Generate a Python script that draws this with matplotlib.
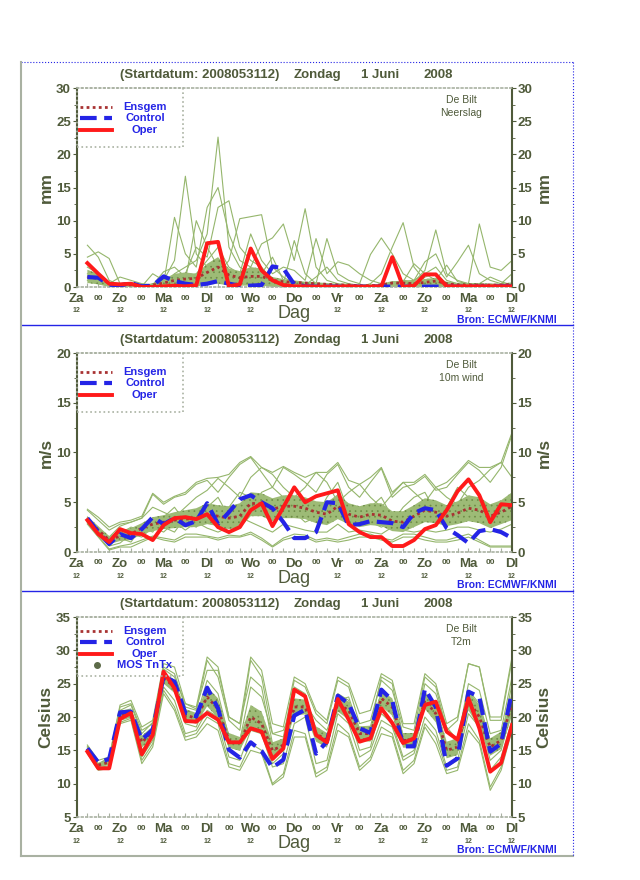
import matplotlib
matplotlib.use("Agg")
import matplotlib.pyplot as plt
from matplotlib.lines import Line2D
from matplotlib.patches import Rectangle
from matplotlib.ticker import MultipleLocator

plt.rcParams['font.family'] = ['Liberation Sans', 'DejaVu Sans']
plt.rcParams['font.weight'] = 'bold'
plt.rcParams['hatch.linewidth'] = 0.5

# --- time axis: 6-hourly steps after 2008053112 ---
steps = list(range(1, 41))
tick_labels = ["Za", "00", "Zo", "00", "Ma", "00", "Dl", "00", "Wo", "00", "Do",
               "00", "Vr", "00", "Za", "00", "Zo", "00", "Ma", "00", "Dl"]

# --- Neerslag (mm) ---
rr_oper = [3.6, 2.0, 0.5, 0.4, 0.5, 0.0, 0.0, 0.1, 0.2, 0.1, 0.25, 6.6, 6.8, 0.1, 0.4, 5.8, 2.5, 1.0, 0.3, 0.1,
           0.1, 0.05, 0.05, 0.05, 0.1, 0.05, 0.05, 0.1, 4.5, 0.0, 0.2, 1.9, 1.9, 0.1, 0.1, 0.1, 0.1, 0.1, 0.1, 0.1]
rr_ctrl = [1.5, 1.4, 0.35, 0.25, 0.6, 0.1, 0.2, 1.6, 0.9, 0.5, 0.3, 0.5, 0.9, 0.5, 0.2, 0.2, 0.3, 3.1, 2.8, 0.4,
           0.1, 0.05, 0.05, 0.05, 0.05, 0.05, 0.05, 0.05, 0.05, 0.05, 0.05, 0.05, 0.05, 0.05, 0.05, 0.05, 0.05, 0.05, 0.1, 0.1]
rr_ens = [1.5, 1.3, 0.6, 0.3, 0.3, 0.1, 0.3, 0.6, 1.0, 1.2, 1.3, 2.2, 3.0, 1.8, 1.4, 1.6, 1.6, 1.0, 0.8, 0.7,
          0.6, 0.5, 0.4, 0.3, 0.3, 0.2, 0.2, 0.3, 0.6, 0.6, 0.5, 0.7, 0.9, 0.5, 0.3, 0.3, 0.3, 0.3, 0.3, 0.4]
rr_q1 = [0.6, 0.4, 0, 0, 0, 0, 0, 0, 0.1, 0.1, 0.1, 0.3, 0.5, 0.2, 0.2, 0.2, 0.2, 0, 0, 0,
         0, 0, 0, 0, 0, 0, 0, 0, 0, 0, 0, 0, 0, 0, 0, 0, 0, 0, 0, 0]
rr_q3 = [2.6, 2.0, 0.8, 0.6, 0.7, 0.4, 0.5, 1.2, 2.0, 2.2, 2.0, 3.5, 4.5, 2.8, 2.4, 3.0, 2.8, 1.5, 1.2, 1.0,
         0.8, 0.7, 0.6, 0.5, 0.5, 0.4, 0.4, 0.5, 0.9, 0.9, 0.8, 1.2, 1.4, 0.8, 0.6, 0.6, 0.6, 0.5, 0.5, 0.7]
rr_members = [
    [1.0, 0.5, 0.2, 0, 0, 0, 0.2, 0.5, 2.0, 3.0, 4.0, 8.0, 22.6, 6.0, 3.0, 2.0, 1.5, 0.8, 0.5, 0.3,
     0.2, 0.1, 0, 0, 0, 0, 0, 0.2, 0.5, 0.8, 1.0, 2.0, 3.0, 1.0, 0.5, 0.3, 0.2, 0.1, 0, 0],
    [3.0, 2.0, 0.5, 0.2, 0, 0, 0.5, 1.0, 4.0, 16.7, 5.0, 3.0, 2.0, 4.0, 10.3, 10.6, 10.9, 3.0, 1.5, 0.5,
     0.2, 0, 0, 0, 0, 0, 0.5, 2.0, 6.0, 9.7, 3.0, 1.0, 0.5, 0.2, 0, 0, 0.5, 1.5, 0.8, 0.3],
    [6.3, 4.5, 1.0, 0.3, 0.2, 0, 0, 0.5, 10.5, 5.0, 3.0, 12.0, 15.0, 8.0, 4.0, 3.0, 6.5, 7.4, 9.5, 4.0,
     11.8, 3.0, 1.0, 0.5, 0.2, 0.1, 0, 0, 0.5, 1.0, 0.8, 2.5, 8.6, 2.0, 1.0, 0.5, 0.3, 0.2, 0.1, 0],
    [4.5, 5.3, 4.3, 0.5, 0.2, 0, 0, 0.2, 1.0, 2.0, 6.0, 4.5, 12.0, 13.0, 6.0, 4.0, 3.0, 1.0, 0.5, 7.0,
     2.0, 0.5, 7.3, 2.0, 1.0, 0.5, 4.9, 7.4, 5.0, 2.0, 1.0, 3.8, 5.0, 1.5, 3.8, 6.3, 2.0, 1.0, 0.5, 0.2],
    [2.0, 1.5, 0.5, 1.5, 1.0, 0.5, 0.3, 2.3, 3.0, 1.5, 2.0, 4.0, 6.0, 3.0, 2.0, 8.0, 4.0, 2.0, 3.0, 2.5,
     1.0, 7.3, 2.0, 3.8, 3.3, 2.0, 1.0, 0.5, 0.3, 0.8, 3.5, 2.0, 1.0, 3.3, 0.8, 0.5, 9.5, 3.0, 2.5, 4.0],
    [1.5, 1.0, 0.3, 0.2, 0.3, 0.1, 2.0, 1.0, 0.5, 1.0, 10.0, 6.0, 3.0, 2.0, 1.0, 0.5, 2.0, 4.5, 1.0, 0.5,
     0.3, 1.5, 3.0, 1.0, 0.5, 0.2, 0.1, 0, 0, 0.2, 0.5, 1.5, 2.0, 0.5, 0.2, 0.1, 0, 0, 0.5, 2.0],
]

# --- 10m wind (m/s) ---
ff_oper = [3.2, 1.8, 1.0, 2.3, 1.9, 1.8, 1.2, 2.7, 3.4, 3.5, 3.3, 3.8, 2.5, 2.0, 2.5, 4.2, 4.9, 2.6, 4.5, 6.5,
           5.0, 5.6, 5.9, 6.2, 2.8, 2.0, 1.5, 1.5, 0.6, 0.6, 1.2, 2.3, 2.7, 4.2, 6.1, 7.3, 5.7, 3.0, 4.8, 4.7]
ff_ctrl = [3.4, 2.0, 0.8, 1.8, 1.4, 2.3, 3.5, 2.8, 3.4, 2.7, 3.1, 4.9, 2.8, 4.0, 5.3, 5.7, 5.0, 4.4, 3.0, 1.4,
           1.4, 2.0, 5.0, 4.9, 2.7, 2.8, 3.1, 3.0, 2.9, 2.5, 3.9, 4.4, 4.2, 2.4, 1.7, 0.9, 2.1, 2.3, 2.0, 1.4]
ff_ens = [3.2, 2.2, 1.2, 1.6, 1.8, 2.4, 2.8, 3.0, 3.2, 3.3, 3.4, 3.8, 3.6, 3.4, 3.6, 4.9, 4.8, 4.3, 4.6, 4.6,
          4.4, 4.0, 3.8, 4.6, 3.8, 3.5, 3.8, 3.7, 3.1, 3.0, 3.6, 4.2, 4.0, 3.6, 3.9, 4.4, 4.2, 3.6, 4.0, 4.6]
ff_q1 = [2.9, 1.8, 0.8, 1.1, 1.2, 1.8, 2.1, 2.3, 2.4, 2.5, 2.5, 2.8, 2.6, 2.3, 2.4, 3.6, 3.6, 3.1, 3.4, 3.4,
         3.3, 2.9, 2.7, 3.3, 2.8, 2.5, 2.7, 2.6, 2.1, 2.0, 2.5, 3.0, 2.9, 2.6, 2.8, 3.1, 2.9, 2.4, 2.8, 3.2]
ff_q3 = [3.6, 2.6, 1.6, 2.2, 2.4, 2.9, 3.5, 3.7, 4.0, 4.2, 4.4, 4.9, 4.7, 4.6, 4.9, 6.0, 5.9, 5.4, 5.7, 5.7,
         5.5, 5.1, 5.0, 5.8, 4.9, 4.6, 4.9, 4.9, 4.1, 4.1, 4.7, 5.4, 5.2, 4.7, 5.1, 5.7, 5.5, 4.8, 5.2, 6.0]
ff_members = [
    [4.3, 3.5, 2.5, 3.0, 3.2, 3.6, 5.9, 5.0, 5.6, 6.0, 7.0, 7.4, 7.5, 7.8, 9.0, 9.6, 8.5, 8.0, 8.6, 8.0,
     7.5, 8.0, 8.0, 9.0, 7.2, 6.8, 7.5, 8.5, 6.0, 7.0, 7.0, 7.8, 6.5, 7.0, 8.0, 9.2, 8.5, 8.5, 9.0, 12.0],
    [2.8, 1.5, 0.2, 0.5, 0.5, 1.0, 1.5, 1.2, 1.0, 1.5, 1.5, 1.5, 1.2, 1.5, 1.5, 1.8, 1.2, 0.5, 1.2, 1.5,
     1.5, 1.0, 1.2, 1.0, 1.2, 1.5, 1.5, 1.2, 1.0, 1.5, 1.5, 1.2, 1.0, 1.0, 1.2, 1.5, 1.0, 0.5, 0.5, 0.5],
    [4.2, 3.2, 2.2, 2.8, 3.0, 3.4, 5.8, 4.8, 5.5, 5.8, 6.8, 7.2, 6.0, 7.5, 8.8, 9.5, 8.0, 6.5, 8.5, 7.8,
     7.0, 6.0, 7.8, 8.8, 6.5, 5.5, 7.0, 8.4, 5.5, 6.5, 6.8, 7.6, 6.2, 6.5, 7.8, 9.0, 8.2, 7.0, 8.5, 11.8],
    [2.9, 1.6, 0.3, 0.6, 0.8, 1.2, 1.6, 1.4, 1.2, 1.8, 1.8, 1.6, 1.4, 1.7, 1.6, 2.0, 1.4, 0.6, 1.4, 1.8,
     1.7, 1.2, 1.4, 1.2, 1.5, 1.8, 1.8, 1.4, 1.2, 1.8, 1.8, 1.5, 1.2, 1.2, 1.5, 1.8, 1.2, 0.6, 0.6, 0.6],
    [3.5, 2.4, 1.5, 2.6, 3.0, 3.4, 4.5, 4.0, 3.5, 4.5, 5.5, 6.2, 7.4, 6.5, 5.5, 7.5, 8.5, 7.8, 6.5, 5.5,
     6.5, 8.0, 7.0, 5.0, 6.0, 6.8, 5.5, 4.5, 5.8, 7.0, 6.0, 5.0, 6.5, 5.5, 4.8, 6.5, 7.2, 8.3, 9.0, 7.5],
    [3.0, 2.0, 1.2, 1.8, 2.5, 2.2, 3.0, 2.5, 2.0, 3.5, 4.0, 3.5, 3.0, 4.5, 6.0, 5.5, 4.5, 4.0, 4.5, 6.5,
     5.0, 4.0, 3.5, 4.5, 3.5, 3.0, 4.5, 5.5, 3.5, 3.0, 3.5, 4.5, 5.0, 3.0, 3.5, 4.5, 4.0, 3.0, 4.5, 5.5],
    [3.3, 2.1, 0.9, 1.4, 1.0, 2.5, 2.0, 3.5, 4.5, 3.0, 2.5, 4.5, 5.5, 3.5, 3.0, 4.0, 6.0, 6.5, 5.5, 4.0,
     3.0, 3.5, 5.5, 7.0, 4.0, 4.5, 3.0, 2.5, 3.0, 4.5, 5.5, 6.0, 4.0, 4.5, 6.5, 5.5, 3.5, 4.0, 3.5, 4.5],
    [3.1, 1.9, 0.6, 0.9, 1.8, 1.5, 2.5, 2.0, 3.0, 2.2, 3.0, 2.4, 2.0, 2.5, 3.5, 3.0, 2.5, 2.0, 2.8, 2.5,
     2.2, 2.0, 2.0, 2.8, 2.0, 2.2, 2.0, 1.8, 2.5, 2.2, 2.0, 2.2, 2.0, 2.2, 2.5, 2.5, 2.2, 2.0, 2.3, 2.8],
]

# --- T2m (Celsius) ---
t_oper = [14.8, 12.3, 12.3, 19.7, 20.6, 14.4, 17.3, 26.8, 24.3, 19.4, 19.3, 20.6, 19.6, 16.2, 16.2, 18.3, 17.8, 13.7, 15.3, 24.1,
          23.1, 17.3, 16.2, 22.7, 19.6, 16.3, 16.8, 21.3, 19.1, 16.1, 16.8, 21.8, 22.3, 17.8, 16.6, 22.8, 18.3, 11.8, 13.1, 18.8]
t_ctrl = [15.3, 13.2, 13.7, 20.7, 20.8, 16.6, 18.1, 26.1, 25.3, 20.6, 20.1, 24.4, 21.3, 15.1, 13.9, 16.2, 14.9, 12.4, 13.6, 20.2,
          21.1, 14.5, 16.3, 23.2, 22.0, 18.3, 17.6, 24.1, 22.5, 15.6, 15.6, 24.2, 21.5, 12.7, 13.8, 23.8, 23.0, 14.8, 16.0, 23.8]
t_ens = [15.0, 12.8, 13.2, 20.2, 20.6, 16.2, 17.8, 25.8, 24.6, 20.3, 19.8, 23.0, 21.2, 16.5, 16.0, 20.0, 19.0, 15.0, 15.8, 21.5,
         21.5, 17.5, 16.5, 22.0, 21.0, 17.5, 17.5, 22.8, 21.5, 16.5, 16.5, 22.5, 20.5, 15.0, 15.5, 22.5, 20.0, 15.5, 16.5, 22.0]
t_q1 = [14.6, 12.5, 12.8, 19.6, 20.0, 15.4, 17.0, 25.0, 23.6, 19.4, 19.0, 21.6, 19.8, 15.4, 15.0, 18.2, 17.4, 13.8, 14.8, 20.2,
        20.4, 16.3, 15.4, 20.8, 19.6, 16.4, 16.3, 21.6, 20.2, 15.4, 15.4, 21.2, 19.2, 13.8, 14.3, 21.0, 18.3, 14.2, 15.2, 20.2]
t_q3 = [15.4, 13.1, 13.6, 20.9, 21.3, 17.2, 18.6, 26.6, 25.6, 21.2, 20.6, 24.5, 22.8, 17.6, 17.0, 21.8, 20.8, 16.2, 16.8, 22.8,
        22.6, 18.6, 17.6, 23.3, 22.3, 18.6, 18.7, 24.0, 22.8, 17.6, 17.6, 23.8, 21.9, 16.3, 16.8, 24.0, 21.8, 16.8, 17.8, 23.8]
t_members = [
    [15.8, 13.5, 14.0, 21.8, 22.5, 18.5, 19.5, 28.0, 27.5, 22.0, 21.5, 29.0, 27.5, 20.0, 19.0, 29.0, 27.0, 19.0, 18.5, 26.0,
     25.0, 21.0, 19.5, 26.0, 25.0, 20.5, 21.0, 26.5, 25.5, 19.0, 19.0, 26.5, 25.0, 19.0, 20.0, 28.0, 27.5, 20.0, 20.0, 29.0],
    [14.5, 12.0, 12.3, 19.0, 19.5, 13.0, 15.5, 23.5, 21.0, 16.5, 17.0, 19.0, 18.0, 12.5, 12.0, 15.0, 14.5, 9.8, 11.0, 17.0,
     17.0, 11.0, 12.0, 18.0, 17.0, 12.0, 13.5, 17.5, 17.0, 11.5, 13.0, 18.5, 16.0, 11.5, 12.0, 18.0, 16.0, 9.0, 12.0, 18.0],
    [15.6, 13.0, 13.9, 21.5, 22.0, 18.0, 19.0, 27.5, 26.5, 21.5, 21.0, 28.5, 26.0, 19.5, 18.0, 28.5, 26.0, 17.5, 17.0, 25.5,
     24.5, 20.5, 19.0, 25.5, 24.5, 19.0, 19.5, 25.5, 24.0, 18.5, 18.0, 26.0, 24.5, 18.0, 19.5, 28.0, 27.5, 19.5, 19.5, 28.5],
    [14.6, 12.2, 12.5, 19.2, 19.8, 13.5, 16.0, 24.0, 21.5, 17.0, 17.5, 20.0, 19.0, 13.0, 12.5, 16.0, 15.0, 10.0, 11.5, 18.0,
     17.5, 11.5, 12.5, 19.0, 17.5, 12.5, 14.0, 18.5, 17.5, 12.0, 13.5, 19.0, 17.0, 12.0, 12.5, 19.0, 16.5, 9.5, 12.5, 18.5],
    [15.2, 12.9, 13.4, 20.4, 21.0, 16.8, 18.3, 26.0, 25.0, 20.5, 20.0, 25.5, 23.5, 17.0, 16.5, 24.5, 23.0, 17.5, 18.0, 22.0,
     21.0, 17.0, 16.0, 21.5, 20.5, 15.0, 15.5, 22.0, 21.5, 16.0, 17.0, 25.0, 23.5, 18.5, 16.5, 25.0, 24.0, 17.5, 18.0, 26.0],
    [15.0, 12.6, 13.0, 20.0, 20.2, 15.0, 17.5, 25.5, 24.0, 19.0, 18.5, 22.5, 21.0, 15.5, 15.0, 20.5, 19.0, 13.0, 14.5, 24.5,
     23.5, 18.0, 17.0, 23.5, 22.5, 17.0, 16.5, 20.5, 19.0, 14.0, 15.0, 22.0, 20.0, 15.0, 15.5, 22.0, 20.0, 13.5, 15.0, 21.0],
    [15.4, 12.8, 13.5, 21.0, 21.8, 17.5, 19.2, 27.2, 26.0, 22.0, 21.2, 27.0, 27.0, 20.0, 19.0, 26.0, 24.5, 16.0, 16.5, 21.0,
     22.0, 19.5, 18.0, 22.5, 23.0, 18.0, 18.5, 26.0, 25.0, 17.0, 16.0, 23.0, 21.5, 15.5, 17.0, 24.0, 22.0, 16.5, 16.5, 25.0],
    [14.8, 12.4, 12.7, 19.5, 20.0, 14.0, 16.5, 24.5, 22.5, 17.5, 18.0, 21.0, 20.0, 14.0, 13.5, 18.0, 17.5, 12.5, 13.0, 19.0,
     20.0, 13.0, 13.5, 20.5, 19.0, 14.0, 15.0, 19.5, 18.5, 13.5, 14.5, 20.0, 18.0, 12.5, 13.5, 20.5, 18.5, 12.0, 14.0, 19.5],
]

# --- colours ---
OLIVE = "#4f5a3a"
GREEN = "#95b66c"
CORE = "#9dbb76"
BLUE = "#2424e6"
RED = "#ff1a1a"
DRED = "#a83232"
FRAME_GRAY = "#a9b1a2"

W, H = 640, 880
AX_L, AX_R = 76.5, 512


def fx(x):
    return x / W


def fy(y):
    return 1 - y / H


fig = plt.figure(figsize=(W / 100, H / 100), dpi=100)


def hline(x0, x1, y, **kw):
    fig.add_artist(Line2D([fx(x0), fx(x1)], [fy(y), fy(y)], transform=fig.transFigure, **kw))


def vline(x, y0, y1, **kw):
    fig.add_artist(Line2D([fx(x), fx(x)], [fy(y0), fy(y1)], transform=fig.transFigure, **kw))


def panel(top, bottom, ylim, ylabel, station, members, q1, q3, ens, ctrl, oper, mos=False):
    ax = fig.add_axes([fx(AX_L), fy(bottom), (AX_R - AX_L) / W, (bottom - top) / H])
    ax.set_xlim(0, 40)
    ax.set_ylim(*ylim)

    # ensemble members
    for m in members:
        ax.plot(steps, m, color=GREEN, lw=0.8, zorder=2)
    ax.fill_between(steps, q1, q3, facecolor=CORE, edgecolor="#6f8d48", hatch="...",
                    lw=0, zorder=2)

    ax.plot(steps, ens, color=DRED, lw=2, ls=(0, (1, 1.2)), zorder=3)
    ax.plot(steps, ctrl, color=BLUE, lw=3, ls=(0, (4, 1.8)), zorder=4)
    ax.plot(steps, oper, color=RED, lw=2.8, zorder=5)

    # spines
    for s in ("left", "right"):
        ax.spines[s].set_color(OLIVE)
        ax.spines[s].set_linewidth(1.5)
    for s in ("top", "bottom"):
        ax.spines[s].set_color(FRAME_GRAY)
        ax.spines[s].set_linestyle(":")
        ax.spines[s].set_linewidth(1.2)

    ax.yaxis.set_major_locator(MultipleLocator(5))
    ax.yaxis.set_minor_locator(MultipleLocator(2.5))
    ax.tick_params(axis="y", which="both", left=True, right=True, labelleft=True,
                   labelright=True, direction="out", color=OLIVE, labelcolor=OLIVE,
                   labelsize=9.5, pad=1)
    ax.tick_params(axis="y", which="major", length=3)
    ax.tick_params(axis="y", which="minor", length=2)
    ax.xaxis.set_major_locator(MultipleLocator(1))
    ax.tick_params(axis="x", which="major", direction="in", length=3, color=FRAME_GRAY,
                   labelbottom=False)

    # x labels
    for k, lab in enumerate(tick_labels):
        x = AX_L + (AX_R - AX_L) * k / 20
        if lab == "00":
            fig.text(fx(x), fy(bottom + 11), lab, ha="center", va="center",
                     fontsize=6, color=OLIVE)
        else:
            fig.text(fx(x), fy(bottom + 12), lab, ha="center", va="center",
                     fontsize=9.5, color=OLIVE)
            if k != 10:
                fig.text(fx(x), fy(bottom + 24), "12", ha="center", va="center",
                         fontsize=5, color=OLIVE)
    fig.text(fx((AX_L + AX_R) / 2), fy(bottom + 26), "Dag", ha="center", va="center",
             fontsize=13, fontweight="normal", color=OLIVE)

    ymid = (top + bottom) / 2
    fig.text(fx(46), fy(ymid), ylabel, rotation=90, ha="center", va="center",
             fontsize=12.5, color=OLIVE)
    fig.text(fx(544), fy(ymid), ylabel, rotation=90, ha="center", va="center",
             fontsize=12.5, color=OLIVE)

    # title
    ty = top - 13
    for x, txt in [(120, "(Startdatum: 2008053112)"), (294, "Zondag"),
                   (361, "1 Juni"), (423, "2008")]:
        fig.text(fx(x), fy(ty), txt, ha="left", va="center", fontsize=9.5, color=OLIVE)

    # station text
    fig.text(fx(461), fy(top + 12), station[0], ha="center", va="center",
             fontsize=7.5, fontweight="normal", color=OLIVE)
    fig.text(fx(461), fy(top + 25), station[1], ha="center", va="center",
             fontsize=7.5, fontweight="normal", color=OLIVE)

    # legend box
    box_h = 59
    fig.add_artist(Rectangle((fx(AX_L), fy(top + box_h)), (182.5 - AX_L) / W, box_h / H,
                             transform=fig.transFigure, fill=False, edgecolor=FRAME_GRAY,
                             ls=":", lw=1.2, zorder=6))
    entries = [("Ensgem", dict(color=DRED, lw=2, ls=(0, (1, 1.2)))),
               ("Control", dict(color=BLUE, lw=3, ls=(0, (4, 1.8)))),
               ("Oper", dict(color=RED, lw=2.8))]
    row0 = top + (14 if mos else 19)
    for r, (name, style) in enumerate(entries):
        y = row0 + r * 11.3
        hline(80, 112, y, zorder=7, **style)
        fig.text(fx(145), fy(y), name, ha="center", va="center", fontsize=8, color=BLUE)
    if mos:
        y = row0 + 3 * 11.3
        fig.add_artist(Line2D([fx(97)], [fy(y)], transform=fig.transFigure, marker="o",
                              ms=4, color="#5c6a48", ls="none"))
        fig.text(fx(145), fy(y), "MOS TnTx", ha="center", va="center", fontsize=8, color=BLUE)

    fig.text(fx(557), fy(bottom + 33), "Bron: ECMWF/KNMI", ha="right", va="center",
             fontsize=7.5, color=BLUE)
    return ax


panel(88, 287, (0, 30), "mm", ("De Bilt", "Neerslag"), rr_members, rr_q1, rr_q3,
      rr_ens, rr_ctrl, rr_oper)
panel(353, 552, (0, 20), "m/s", ("De Bilt", "10m wind"), ff_members, ff_q1, ff_q3,
      ff_ens, ff_ctrl, ff_oper)
panel(617, 817, (5, 35), "Celsius", ("De Bilt", "T2m"), t_members, t_q1, t_q3,
      t_ens, t_ctrl, t_oper, mos=True)

# outer frame and dividers
hline(21, 573, 62, color=BLUE, lw=0.8, ls=":")
hline(21, 573, 325, color=BLUE, lw=1)
hline(21, 573, 591, color=BLUE, lw=1)
hline(21, 573, 856, color=FRAME_GRAY, lw=1.5)
vline(21, 62, 856, color=FRAME_GRAY, lw=1.5)
vline(573, 62, 856, color=BLUE, lw=0.8, ls=":")

fig.savefig("out.png", dpi=100, facecolor="white")
